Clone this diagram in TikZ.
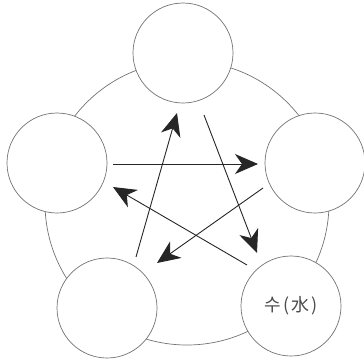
\documentclass[tikz,border=0pt]{standalone}
\usepackage{fontspec}
\newfontfamily\krfont{Noto Sans CJK KR}
\usetikzlibrary{arrows.meta}
\begin{document}
\begin{tikzpicture}[x=1pt,y=-1pt,
  elem/.style={circle,draw=black!55,line width=0.7pt,fill=white,minimum size=100pt,inner sep=0pt},
  rel/.style={draw=black!85,line width=0.9pt,-{Stealth[length=23pt,width=20pt,inset=7pt]}}]
\useasboundingbox (0,0) rectangle (364,362);
\draw[black!55,line width=0.7pt] (187,203) circle[radius=142];
\node[elem] (T) at (183,53) {};
\node[elem] (L) at (57,163) {};
\node[elem] (R) at (315,163) {};
\node[elem] (BL) at (107,308) {};
\node[elem] (BR) at (291,306) {\krfont\fontsize{18pt}{18pt}\selectfont\color{black!70}수\kern3pt(\kern2pt水\kern2pt)};
\coordinate (a1s) at (113,164); \coordinate (a1e) at (258,164);
\coordinate (a2s) at (204,115); \coordinate (a2e) at (257,253);
\coordinate (a3s) at (263,188); \coordinate (a3e) at (157,263);
\coordinate (a4s) at (247,265); \coordinate (a4e) at (113,187);
\coordinate (a5s) at (136,257); \coordinate (a5e) at (177,113);
\draw[rel] (a1s) -- (a1e);
\draw[rel] (a2s) -- (a2e);
\draw[rel] (a3s) -- (a3e);
\draw[rel] (a4s) -- (a4e);
\draw[rel] (a5s) -- (a5e);
\end{tikzpicture}
\end{document}
